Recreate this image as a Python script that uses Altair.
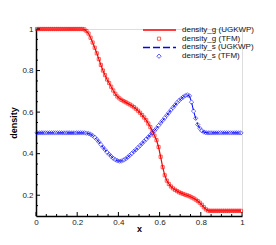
import altair as alt
import pandas as pd

# cell centres of the 100-cell grid
x_cells = [round(0.005 + 0.01 * i, 3) for i in range(100)]

density_g = (
    [1.0] * 23 + [0.998,
    0.99, 0.978, 0.958, 0.935, 0.91, 0.883, 0.855, 0.827, 0.80, 0.778,
    0.757, 0.740, 0.722, 0.704, 0.688, 0.675, 0.666, 0.659, 0.653, 0.648,
    0.642, 0.637, 0.631, 0.624, 0.616, 0.607, 0.597, 0.586, 0.574, 0.561,
    0.545, 0.528, 0.508, 0.487, 0.465, 0.432, 0.385, 0.335, 0.296, 0.270,
    0.254, 0.242, 0.233, 0.226, 0.220, 0.214, 0.210, 0.206, 0.202, 0.199,
    0.195, 0.190, 0.185, 0.179, 0.172, 0.164, 0.154, 0.142, 0.132, 0.126]
    + [0.125] * 16
)

density_s = (
    [0.5] * 24 + [
    0.499, 0.497, 0.493, 0.487, 0.479, 0.469, 0.457, 0.444, 0.431, 0.419,
    0.407, 0.397, 0.387, 0.378, 0.371, 0.366, 0.364, 0.365, 0.369, 0.375,
    0.383, 0.392, 0.401, 0.410, 0.419, 0.429, 0.439, 0.449, 0.460, 0.470,
    0.480, 0.490, 0.500, 0.510, 0.522, 0.535, 0.548, 0.560, 0.572, 0.585,
    0.597, 0.610, 0.622, 0.634, 0.646, 0.656, 0.665, 0.673, 0.679, 0.683,
    0.678, 0.648, 0.605, 0.570, 0.540, 0.522, 0.510, 0.504, 0.501]
    + [0.5] * 17
)

legend_labels = ["density_g (UGKWP)", "density_g (TFM)", "density_s (UGKWP)", "density_s (TFM)"]

x_major = [0, 0.2, 0.4, 0.6, 0.8, 1.0]
x_minor = [0.05, 0.1, 0.15, 0.25, 0.3, 0.35, 0.45, 0.5, 0.55, 0.65, 0.7, 0.75, 0.85, 0.9, 0.95]
y_major = [0.2, 0.4, 0.6, 0.8, 1.0]
y_minor = [0.15, 0.25, 0.3, 0.35, 0.45, 0.5, 0.55, 0.65, 0.7, 0.75, 0.85, 0.9, 0.95]

RED = "#ff0000"
BLUE = "#0000ff"
FONT = "Liberation Sans"
W, H = 206, 187

df = pd.DataFrame({"x": x_cells, "g": density_g, "s": density_s})

xs = alt.Scale(domain=[0, 1], nice=False, zero=False)
ys = alt.Scale(domain=[0.1, 1], nice=False, zero=False)

xaxis = alt.Axis(values=x_major, format="~g", ticks=False, grid=False, domainColor="black",
                 domainWidth=1.5, labelFontSize=8, labelFont=FONT, labelColor="#222",
                 labelPadding=2, title="x", titleFont=FONT, titleFontSize=9,
                 titleFontWeight="bold", titlePadding=-2, labelFlush=False)
yaxis = alt.Axis(values=y_major, format="~g", ticks=False, grid=False, domainColor="black",
                 domainWidth=1.5, labelFontSize=8, labelFont=FONT, labelColor="#222",
                 labelPadding=3, title="density", titleFont=FONT, titleFontSize=9,
                 titleFontWeight="bold", titlePadding=3, labelFlush=False)

base = alt.Chart(df)

g_line = base.mark_line(color=RED, strokeWidth=1.2).encode(
    x=alt.X("x:Q", scale=xs, axis=xaxis), y=alt.Y("g:Q", scale=ys, axis=yaxis))
s_line = base.mark_line(color=BLUE, strokeWidth=1.0, strokeDash=[7, 3]).encode(
    x=alt.X("x:Q", scale=xs), y=alt.Y("s:Q", scale=ys))
g_pts = base.mark_point(shape="square", size=10, filled=False, color=RED, strokeWidth=0.9).encode(
    x=alt.X("x:Q", scale=xs), y=alt.Y("g:Q", scale=ys))
s_pts = base.mark_point(shape="diamond", size=19, filled=False, color=BLUE, strokeWidth=0.8).encode(
    x=alt.X("x:Q", scale=xs), y=alt.Y("s:Q", scale=ys))

# inward ticks
def xticks(vals, length):
    return alt.Chart(pd.DataFrame({"v": vals})).mark_rule(color="black", strokeWidth=1).encode(
        x=alt.X("v:Q", scale=xs), y=alt.value(H), y2=alt.value(H - length))

def yticks(vals, length):
    return alt.Chart(pd.DataFrame({"v": vals})).mark_rule(color="black", strokeWidth=1).encode(
        y=alt.Y("v:Q", scale=ys), x=alt.value(0), x2=alt.value(length))

ticks = [xticks(x_major, 4), xticks(x_minor, 2), yticks(y_major, 4), yticks(y_minor, 2)]

# legend
row_y = [1.0, 9.7, 18.4, 27.2]
leg = []
dummy = pd.DataFrame({"a": [0]})
leg.append(alt.Chart(dummy).mark_rule(color=RED, strokeWidth=1.5).encode(
    x=alt.value(107), x2=alt.value(140), y=alt.value(row_y[0])))
leg.append(alt.Chart(dummy).mark_point(shape="square", size=10, filled=False, color=RED, strokeWidth=0.9).encode(
    x=alt.value(123), y=alt.value(row_y[1])))
leg.append(alt.Chart(dummy).mark_rule(color=BLUE, strokeWidth=1.5, strokeDash=[7, 3]).encode(
    x=alt.value(107), x2=alt.value(140), y=alt.value(row_y[2])))
leg.append(alt.Chart(dummy).mark_point(shape="diamond", size=19, filled=False, color=BLUE, strokeWidth=0.9).encode(
    x=alt.value(123), y=alt.value(row_y[3])))
for lbl, ry in zip(legend_labels, row_y):
    leg.append(alt.Chart(dummy).mark_text(align="left", baseline="middle", fontSize=8, font=FONT,
                                          color="#111").encode(
        x=alt.value(146), y=alt.value(ry), text=alt.value(lbl)))

chart = alt.layer(g_line, s_line, g_pts, s_pts, *ticks, *leg).properties(
    width=W, height=H,
    autosize=alt.AutoSizeParams(type="none"),
    padding={"left": 28, "top": 21, "right": 12, "bottom": 20},
).configure_view(stroke=None).configure(background="white")

chart.save("out.html", embed_options={"renderer": "svg", "actions": False})
